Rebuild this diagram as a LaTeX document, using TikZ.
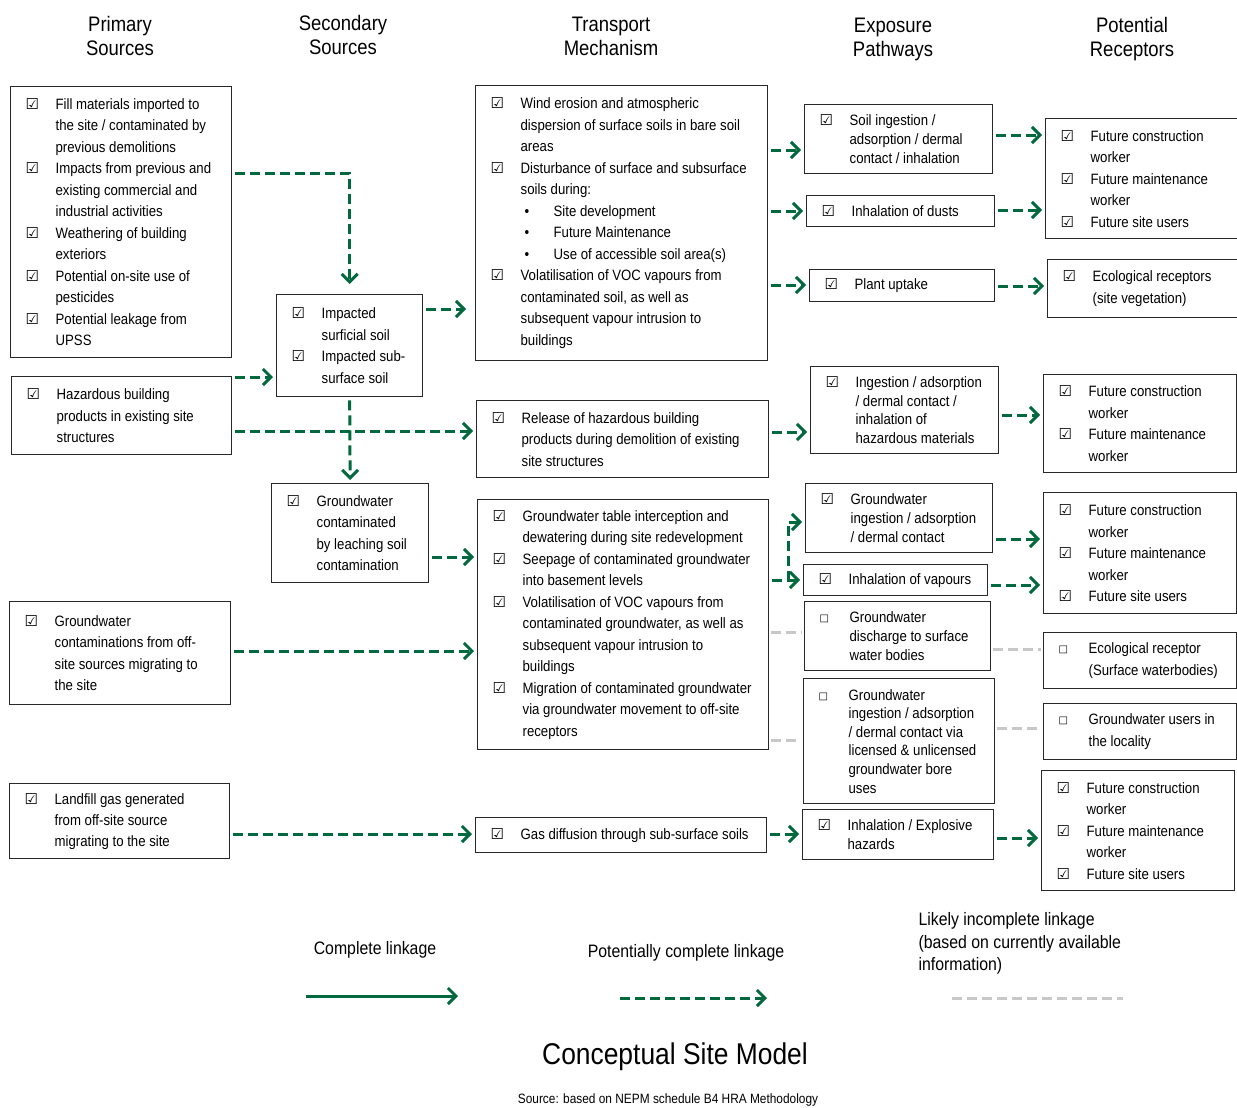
\documentclass[tikz,border=0pt]{standalone}
\usepackage{fontspec}
\setmainfont[FakeStretch=0.88]{Liberation Sans}
\newfontfamily\symf{DejaVu Sans}
\usetikzlibrary{arrows.meta}
\definecolor{cgreen}{RGB}{0,105,62}
\definecolor{cgray}{RGB}{200,200,200}
\definecolor{cbord}{RGB}{40,40,40}
\newcommand\nl{\hfil\break}
\newcommand\ckm{\makebox[25pt][l]{\hspace{-5pt}\fontsize{15}{15}\symf ☑}}
\newcommand\ebm{\makebox[25pt][l]{\hspace{-5pt}\raisebox{1pt}{\fontsize{10}{10}\symf □}}}
\newcommand\itm[2][\ckm]{\par\hangindent=25pt\hangafter=1\noindent#1#2}
\newcommand\blt[1]{\par\noindent\hspace*{29pt}\makebox[29pt][l]{•}#1}
\newcommand\bx[7][21.5]{%
  \pgfmathsetmacro\bw{#5-#3}\pgfmathsetmacro\bh{#6-#4}%
  \node[box,anchor=north west,minimum width=\bw pt,minimum height=\bh pt] (#2) at (#3,#4)
  {\begin{minipage}{\bw pt}\fontsize{15}{#1}\selectfont\leftskip=20pt\rightskip=-40pt plus 1fil\parindent=0pt\parskip=0pt #7\end{minipage}};}
\begin{document}
\begin{tikzpicture}[x=1pt,y=-1pt,
  pot/.style={draw=cgreen,line width=3pt,dash pattern=on 10pt off 5pt,-{Straight Barb[length=8pt,width=16pt]},shorten <=3pt,shorten >=3pt},
  inc/.style={draw=cgray,line width=3pt,dash pattern=on 10pt off 5pt,shorten <=2pt,shorten >=2pt},
  comp/.style={draw=cgreen,line width=3pt,-{Straight Barb[length=8pt,width=16pt]}},
  hdr/.style={align=center,font=\fontsize{21}{24}\selectfont},
  box/.style={draw=cbord,line width=1.3pt,inner sep=0pt}]
\fill[white] (0,0) rectangle (1237,1108);
\useasboundingbox (0,0) rectangle (1237,1108);

% headers
\node[hdr] (h1) at (120,36) {Primary\\Sources};
\node[hdr] (h2) at (343,35) {Secondary\\Sources};
\node[hdr] (h3) at (611,36) {Transport\\Mechanism};
\node[hdr] (h4) at (893,39) {Exposure\\Pathways};
\node[hdr] (h5) at (1132,39) {Potential\\Receptors};

% primary sources
\bx{P1}{10}{86}{231}{357}{\itm{Fill materials imported to\nl the site / contaminated by\nl previous demolitions}\itm{Impacts from previous and\nl existing commercial and\nl industrial activities}\itm{Weathering of building\nl exteriors}\itm{Potential on-site use of\nl pesticides}\itm{Potential leakage from\nl UPSS}}
\bx{P2}{11}{376}{231}{454}{\itm{Hazardous building\nl products in existing site\nl structures}}
\bx{P3}{9}{601}{230}{704}{\itm{Groundwater\nl contaminations from off-\nl site sources migrating to\nl the site}}
\bx[21]{P4}{9}{783}{229}{858}{\itm{Landfill gas generated\nl from off-site source\nl migrating to the site}}

% secondary sources
\bx{S1}{276}{294}{422}{396}{\itm{Impacted\nl surficial soil}\itm{Impacted sub-\nl surface soil}}
\bx{S2}{271}{483}{428}{582}{\itm{Groundwater\nl contaminated\nl by leaching soil\nl contamination}}

% transport
\bx{T1}{475}{85}{767}{360}{\itm{Wind erosion and atmospheric\nl dispersion of surface soils in bare soil\nl areas}\itm{Disturbance of surface and subsurface\nl soils during:}\blt{Site development}\blt{Future Maintenance}\blt{Use of accessible soil area(s)}\itm{Volatilisation of VOC vapours from\nl contaminated soil, as well as\nl subsequent vapour intrusion to\nl buildings}}
\bx{T2}{476}{400}{768}{477}{\itm{Release of hazardous building\nl products during demolition of existing\nl site structures}}
\bx{T3}{477}{499}{768}{749}{\itm{Groundwater table interception and\nl dewatering during site redevelopment}\itm{Seepage of contaminated groundwater\nl into basement levels}\itm{Volatilisation of VOC vapours from\nl contaminated groundwater, as well as\nl subsequent vapour intrusion to\nl buildings}\itm{Migration of contaminated groundwater\nl via groundwater movement to off-site\nl receptors}}
\bx{T4}{475}{817}{766}{852}{\itm{Gas diffusion through sub-surface soils}}

% exposure pathways
\bx[18.6]{E1}{804}{104}{992}{173}{\itm{Soil ingestion /\nl adsorption / dermal\nl contact / inhalation}}
\bx{E2}{806}{195}{994}{226}{\itm{Inhalation of dusts}}
\bx{E3}{809}{269}{994}{301}{\itm{Plant uptake}}
\bx[18.6]{E4}{810}{366}{998}{453}{\itm{Ingestion / adsorption\nl / dermal contact /\nl inhalation of\nl hazardous materials}}
\bx[18.6]{E5}{805}{483}{992}{552}{\itm{Groundwater\nl ingestion / adsorption\nl / dermal contact}}
\bx{E6}{803}{564}{987}{595}{\itm{Inhalation of vapours}}
\bx[18.6]{E7}{804}{601}{990}{670}{\itm[\ebm]{Groundwater\nl discharge to surface\nl water bodies}}
\bx[18.6]{E8}{803}{678}{994}{803}{\itm[\ebm]{Groundwater\nl ingestion / adsorption\nl / dermal contact via\nl licensed \& unlicensed\nl groundwater bore\nl uses}}
\bx[18.6]{E9}{802}{809}{993}{859}{\itm{Inhalation / Explosive\nl hazards}}

% receptors
\bx{R1}{1045}{118}{1245}{238}{\itm{Future construction\nl worker}\itm{Future maintenance\nl worker}\itm{Future site users}}
\bx{R2}{1047}{259}{1245}{317}{\itm{Ecological receptors\nl (site vegetation)}}
\bx{R3}{1043}{374}{1236}{472}{\itm{Future construction\nl worker}\itm{Future maintenance\nl worker}}
\bx{R4}{1043}{492}{1236}{613}{\itm{Future construction\nl worker}\itm{Future maintenance\nl worker}\itm{Future site users}}
\bx{R5}{1043}{632}{1236}{688}{\itm[\ebm]{Ecological receptor\nl (Surface waterbodies)}}
\bx{R6}{1043}{703}{1236}{759}{\itm[\ebm]{Groundwater users in\nl the locality}}
\bx{R7}{1041}{770}{1234}{890}{\itm{Future construction\nl worker}\itm{Future maintenance\nl worker}\itm{Future site users}}

% connectors: sources
\draw[pot,shorten >=10pt] (P1.east |- 0,173) -| (S1.north);
\draw[pot] (P2.east |- 0,377) -- (S1.west |- 0,377);
\draw[pot,shorten >=9pt] (S1.east |- 0,309) -- (T1.west |- 0,309);
\draw[pot] (S1.south) -- (S2.north);
\draw[pot] (P2.east |- 0,431) -- (T2.west |- 0,431);
\draw[pot] (S2.east |- 0,557) -- (T3.west |- 0,557);
\draw[pot] (P3.east |- 0,651) -- (T3.west |- 0,651);
\draw[pot] (P4.east |- 0,834) -- (T4.west |- 0,834);
% transport -> exposure
\draw[pot] (T1.east |- 0,150) -- (E1.west |- 0,150);
\draw[pot] (T1.east |- 0,211) -- (E2.west |- 0,211);
\draw[pot] (T1.east |- 0,285) -- (E3.west |- 0,285);
\draw[pot] (T2.east |- 0,432) -- (E4.west |- 0,432);
\draw[pot] (T3.east |- 0,580) -- ++(19,0) |- (E5.west |- 0,522);
\draw[pot] (T3.east |- 0,580) -- (E6.west |- 0,580);
\draw[inc] (T3.east |- 0,632) -- (E7.west |- 0,632);
\draw[inc] (T3.east |- 0,740) -- (E8.west |- 0,740);
\draw[pot] (T4.east |- 0,834) -- (E9.west |- 0,834);
% exposure -> receptors
\draw[pot] (E1.east |- 0,135) -- (R1.west |- 0,135);
\draw[pot] (E2.east |- 0,210) -- (R1.west |- 0,210);
\draw[pot] (E3.east |- 0,286) -- (R2.west |- 0,286);
\draw[pot] (E4.east |- 0,415) -- (R3.west |- 0,415);
\draw[pot] (E5.east |- 0,539) -- (R4.west |- 0,539);
\draw[pot] (E6.east |- 0,585) -- (R4.west |- 0,585);
\draw[inc] (E7.east |- 0,649) -- (R5.west |- 0,649);
\draw[inc] (E8.east |- 0,728) -- (R6.west |- 0,728);
\draw[pot] (E9.east |- 0,838) -- (R7.west |- 0,838);

% legend
\node[font=\fontsize{18}{22}\selectfont] (l1) at (375,950) {Complete linkage};
\node[font=\fontsize{18}{22}\selectfont] (l2) at (686,953) {Potentially complete linkage};
\node[font=\fontsize{18}{22.5}\selectfont,align=left,anchor=west] (l3) at (915,943.5) {Likely incomplete linkage\\(based on currently available\\information)};
\coordinate (a1) at (306,996); \coordinate (b1) at (458,996);
\coordinate (a2) at (620,998); \coordinate (b2) at (767,998);
\coordinate (a3) at (952,998); \coordinate (b3) at (1123,998);
\draw[comp] (a1) -- (b1);
\draw[pot,shorten <=0pt,shorten >=0pt] (a2) -- (b2);
\draw[inc,shorten <=0pt,shorten >=0pt] (a3) -- (b3);

\node[font=\fontsize{30}{34}\selectfont] (title) at (675,1057) {Conceptual Site Model};
\node[font=\fontsize{13.5}{16}\selectfont] (src) at (668,1100) {Source: based on NEPM schedule B4 HRA Methodology};
\end{tikzpicture}
\end{document}
